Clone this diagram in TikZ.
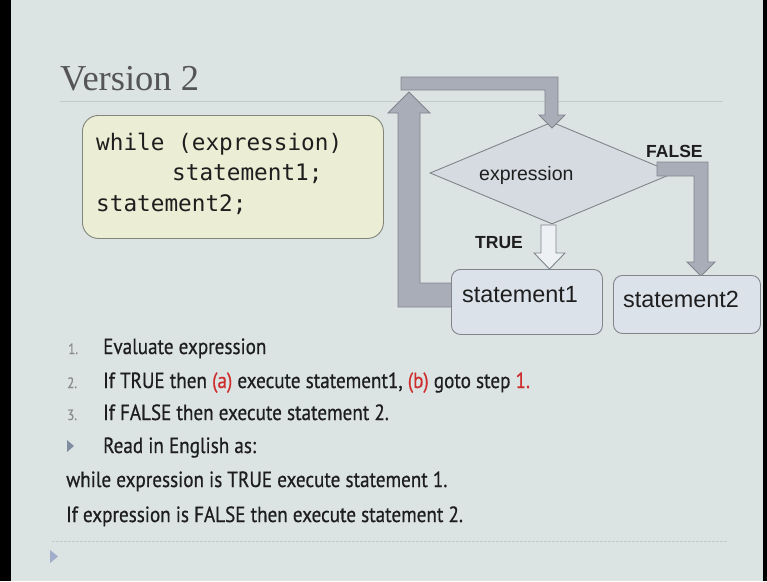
\documentclass[tikz,border=0pt]{standalone}
\usepackage{fontspec}
\setmainfont{Liberation Sans}
\newfontfamily\titlefont{Liberation Serif}
\newfontfamily\codefont{DejaVu Sans Mono}
\newfontfamily\bodyfont[FakeStretch=0.87,FakeBold=0.6]{PT Sans}
\usetikzlibrary{shapes.geometric}
\definecolor{slidebg}{RGB}{220,227,227}
\definecolor{titlegrey}{RGB}{85,85,85}
\definecolor{codefill}{RGB}{235,237,212}
\definecolor{codeborder}{RGB}{130,134,122}
\definecolor{txt}{RGB}{30,30,30}
\definecolor{diafill}{RGB}{214,219,226}
\definecolor{shapeborder}{RGB}{128,133,140}
\definecolor{arrfill}{RGB}{168,173,184}
\definecolor{truefill}{RGB}{238,241,244}
\definecolor{stfill}{RGB}{220,226,234}
\definecolor{numgrey}{RGB}{140,140,140}
\definecolor{redtxt}{RGB}{205,45,45}
\definecolor{bulletcol}{RGB}{128,140,160}
\definecolor{bulletcolb}{RGB}{160,174,204}
\definecolor{rulecol}{RGB}{196,203,203}
\tikzset{
  txtnode/.style={anchor=base west, inner sep=0, text=txt},
  codeline/.style={txtnode, font=\codefont\fontsize{22.7}{26}\selectfont},
  bodyline/.style={txtnode, font=\bodyfont\fontsize{22}{26}\selectfont},
  numline/.style={txtnode, text=numgrey, font=\bodyfont\fontsize{15}{18}\selectfont},
  blockarrow/.style={fill=arrfill, draw=shapeborder, line width=0.9pt, line join=miter},
  stbox/.style={draw=shapeborder, fill=stfill, rounded corners=9, line width=0.9pt, anchor=north west, inner sep=0},
  flowtxt/.style={txtnode, font=\fontsize{23.4}{28}\selectfont},
  boldlbl/.style={txtnode, font=\bfseries\fontsize{17.5}{21}\selectfont}
}
\begin{document}
\begin{tikzpicture}[x=1pt,y=-1pt]
\useasboundingbox (0,0) rectangle (767,581);
\fill[slidebg] (0,0) rectangle (767,581);
\fill[black] (0,0) rectangle (11,581);
\fill[black] (763,0) rectangle (767,581);

% title
\node[anchor=base west, inner sep=0, text=titlegrey, font=\titlefont\fontsize{36.5}{40}\selectfont] (title) at (60,90) {Version 2};
\draw[rulecol, line width=0.8pt] (60,101) -- (723,101);

% code box
\node[draw=codeborder, fill=codefill, rounded corners=16, minimum width=301, minimum height=123, anchor=north west, inner sep=0, line width=0.9pt] (codebox) at (82,115) {};
\node[codeline] (c1) at (96,150) {while (expression)};
\node[codeline] (c2) at (172,180) {statement1;};
\node[codeline] (c3) at (96,211) {statement2;};

% diamond
\node[diamond, draw=shapeborder, fill=diafill, minimum width=244, minimum height=102, inner sep=0, line width=0.9pt] (expr) at (552,173) {};
\node[txtnode, font=\fontsize{19.5}{23}\selectfont] (exprtxt) at (479,180) {expression};

% loop arrow (under statement1)
\filldraw[blockarrow] (455,283) -- (420,283) -- (420,113) -- (430,113) -- (409,92) -- (388,113) -- (398,113) -- (398,307) -- (455,307) -- cycle;
% top arrow
\filldraw[blockarrow] (401,77) -- (558,77) -- (558,115) -- (565,115) -- (552,128) -- (539,115) -- (545,115) -- (545,90) -- (401,90) -- cycle;
% TRUE arrow
\filldraw[blockarrow, fill=truefill] (541,225) -- (556,225) -- (556,253) -- (565,253) -- (549.5,269) -- (534,253) -- (541,253) -- cycle;
% FALSE arrow
\filldraw[blockarrow] (657,162) -- (708,162) -- (708,262) -- (715,262) -- (701,276) -- (687,262) -- (694,262) -- (694,176) -- (657,176) -- cycle;

\node[boldlbl] (truelbl) at (475,248) {TRUE};
\node[boldlbl] (falselbl) at (646,157) {FALSE};

% statement boxes
\node[stbox, minimum width=151, minimum height=65] (st1) at (451,269) {};
\node[flowtxt] (st1txt) at (462,302) {statement1};
\node[stbox, minimum width=147, minimum height=58] (st2) at (613,275) {};
\node[flowtxt] (st2txt) at (623,307) {statement2};

% list
\node[numline] (n1) at (68,354) {1.};
\node[bodyline] (l1) at (103,354) {Evaluate expression};
\node[numline] (n2) at (67,388) {2.};
\node[bodyline] (l2) at (103,388) {If TRUE then \textcolor{redtxt}{(a)} execute statement1, \textcolor{redtxt}{(b)} goto step \textcolor{redtxt}{1.}};
\node[numline] (n3) at (67,420) {3.};
\node[bodyline] (l3) at (103,420) {If FALSE then execute statement 2.};
\fill[bulletcol] (67,440) -- (74,446) -- (67,452) -- cycle;
\node[bodyline] (l4) at (103,453) {Read in English as:};
\node[bodyline] (l5) at (66,487) {while expression is TRUE execute statement 1.};
\node[bodyline] (l6) at (66,522) {If expression is FALSE then execute statement 2.};

\draw[rulecol, line width=0.8pt, dash pattern=on 3pt off 1pt] (52,541) -- (728,541);
\fill[bulletcolb] (50,550) -- (58,556.5) -- (50,563) -- cycle;
\end{tikzpicture}
\end{document}
